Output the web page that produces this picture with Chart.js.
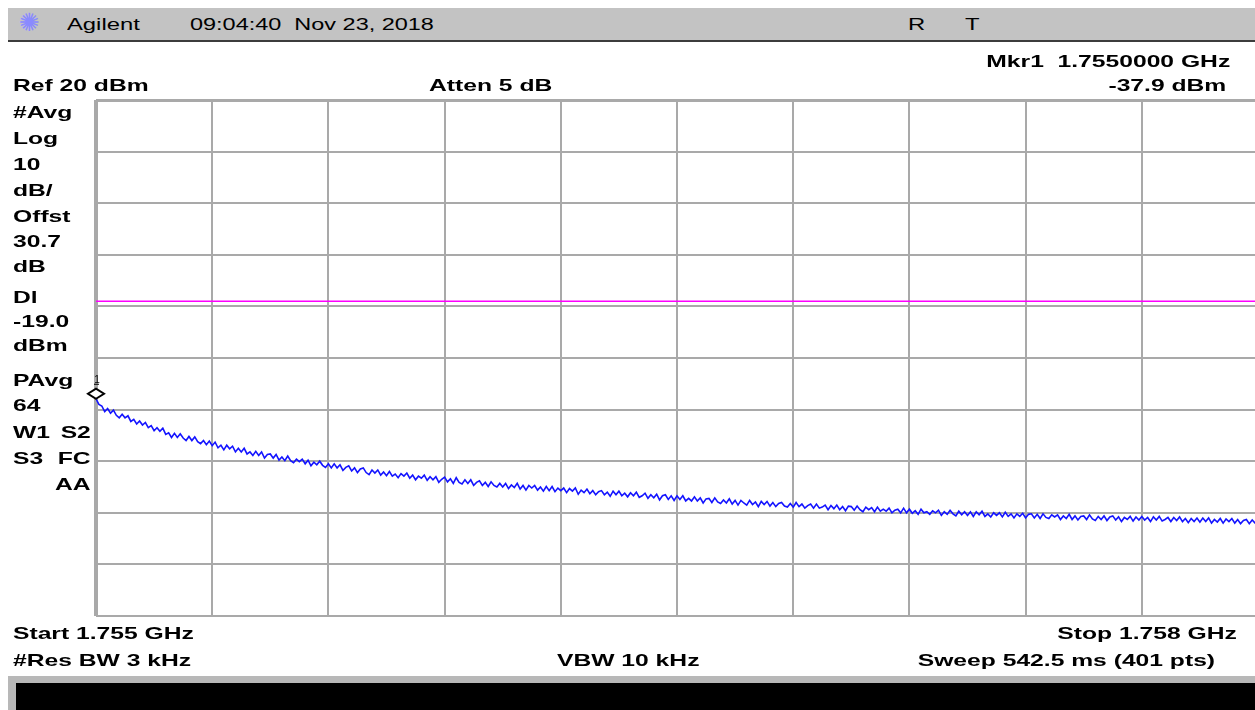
<!DOCTYPE html>
<html>
<head>
<meta charset="utf-8">
<title>Spectrum trace</title>
<script src="https://cdn.jsdelivr.net/npm/chart.js@4.4.1/dist/chart.umd.min.js"></script>
<style>
  html, body { margin: 0; padding: 0; background: #fff; }
  body { width: 1255px; height: 710px; overflow: hidden; position: relative;
         font-family: "Liberation Sans", Arial, sans-serif; }
  #wrap { position: absolute; left: 0; top: 0; width: 1262px; height: 710px; }
  #bar { position: absolute; left: 8px; top: 8px; width: 1247px; height: 32px;
         background: #c3c3c3; border-bottom: 2px solid #3c3c3c; }
  #foot { position: absolute; left: 8px; top: 676px; width: 1247px; height: 34px; background: #b8b8b8; }
  #footIn { position: absolute; left: 8px; top: 7px; right: 0; bottom: 0; background: #000; }
  .lbl { position: absolute; white-space: pre; font-size: 17px; line-height: 17px;
         font-weight: bold; color: #000; transform-origin: 0 0; }
  .plain { font-weight: normal; }
  .logo { position: absolute; left: 19px; top: 9px; font-family: "DejaVu Sans"; font-size: 25px;
          line-height: 28px; color: #8a8aff; }
</style>
</head>
<body>
<div id="wrap"><canvas id="c" width="1262" height="710"></canvas></div>
<div id="bar"></div>
<div id="foot"><div id="footIn"></div></div>
<div class="logo">✺</div>
<script>
// sweep settings
var startMHz = 1755.0;
var stopMHz = 1758.0;
var refLevel = 20;      // dBm, top of the graticule
var bottomLevel = -80;  // 10 dB/div, 10 divisions
var displayLine = [-19.0];
var markerIdx = [0];

// 401 sweep points, dBm
var traceDbm = [
  -37.9, -39.0, -39.3, -40.4, -39.8, -40.7, -40.1, -41.1, -41.6, -40.9, -41.6, -41.2, -42.3, -41.9, -42.8, -42.2, -43.0, -42.5, -43.5, -43.1,
  -44.1, -43.5, -44.2, -43.6, -44.8, -44.5, -45.4, -44.6, -45.4, -44.7, -45.5, -46.0, -45.2, -46.0, -45.3, -46.2, -46.6, -46.0, -46.8, -46.1,
  -47.0, -46.3, -47.4, -46.9, -47.8, -46.9, -47.6, -47.1, -48.2, -47.5, -48.2, -47.5, -48.6, -48.2, -48.9, -48.1, -48.9, -48.2, -49.4, -48.7,
  -48.6, -49.4, -48.7, -49.8, -49.2, -49.9, -49.0, -49.9, -50.3, -49.6, -50.1, -49.6, -50.5, -49.8, -50.9, -50.2, -50.7, -50.0, -50.8, -51.2,
  -50.5, -51.3, -50.5, -51.3, -50.7, -51.8, -51.2, -50.9, -51.9, -51.3, -52.2, -51.5, -51.3, -52.2, -52.6, -51.7, -52.3, -51.7, -52.7, -52.1,
  -52.8, -52.0, -52.9, -52.5, -53.2, -52.4, -52.9, -52.3, -53.3, -52.7, -53.6, -52.9, -53.3, -52.7, -53.7, -53.0, -53.6, -53.0, -54.1, -53.5,
  -53.1, -54.0, -53.4, -54.3, -53.2, -54.1, -54.4, -53.6, -54.3, -53.6, -54.7, -54.1, -53.8, -54.7, -54.1, -54.9, -54.0, -54.7, -55.0, -54.3,
  -55.0, -54.3, -55.3, -54.6, -55.1, -54.3, -55.4, -54.7, -55.6, -54.7, -55.2, -54.7, -55.6, -55.0, -55.8, -54.9, -55.7, -54.9, -55.9, -55.2,
  -55.7, -55.2, -56.1, -55.3, -55.8, -55.2, -56.4, -55.6, -56.1, -55.4, -56.3, -55.7, -56.5, -55.9, -55.7, -56.5, -56.0, -56.8, -55.8, -56.5,
  -55.8, -56.7, -56.2, -56.9, -56.1, -56.7, -56.0, -57.0, -56.7, -56.2, -57.2, -56.5, -57.1, -56.4, -57.5, -56.7, -56.5, -57.4, -56.7, -57.6,
  -56.7, -57.4, -56.7, -57.7, -57.2, -57.7, -56.9, -57.7, -57.1, -58.1, -57.3, -57.2, -58.0, -57.1, -57.9, -58.2, -57.5, -58.1, -57.3, -58.3,
  -57.6, -58.5, -57.6, -58.1, -58.5, -57.6, -58.4, -57.9, -58.8, -57.8, -58.4, -57.8, -58.7, -58.0, -58.8, -58.2, -58.0, -58.7, -58.9, -58.2,
  -58.9, -58.0, -58.8, -58.3, -59.1, -58.6, -58.3, -59.1, -58.3, -59.1, -58.9, -58.5, -59.4, -58.6, -59.2, -58.5, -59.4, -58.8, -59.6, -58.7,
  -58.8, -59.5, -58.7, -59.4, -59.8, -58.9, -59.4, -59.0, -59.8, -58.9, -59.7, -59.3, -59.7, -59.1, -60.0, -59.5, -59.3, -60.0, -59.1, -60.0,
  -59.3, -60.1, -59.6, -60.3, -59.3, -60.0, -59.8, -60.3, -59.6, -60.0, -59.5, -60.5, -59.8, -60.3, -59.5, -60.2, -60.6, -59.7, -60.4, -59.8,
  -60.5, -59.8, -60.7, -59.8, -60.4, -59.7, -60.7, -60.2, -60.8, -60.0, -60.5, -60.0, -60.8, -59.9, -60.7, -60.2, -61.0, -60.2, -60.7, -60.1,
  -61.0, -60.3, -60.2, -61.0, -60.3, -61.1, -60.2, -60.9, -61.1, -60.4, -60.8, -60.4, -61.3, -60.6, -61.1, -60.3, -61.3, -60.6, -61.4, -60.7,
  -60.6, -61.3, -60.4, -61.2, -61.5, -60.7, -61.3, -60.6, -61.5, -60.8, -60.6, -61.4, -60.8, -61.7, -60.9, -61.3, -60.7, -61.6, -60.8, -61.4,
  -60.7, -61.4, -60.9, -61.7, -60.8, -61.4, -60.7, -61.6, -61.3, -60.9, -61.7, -60.9, -61.5, -60.8, -61.7, -61.1, -61.9, -61.1, -61.7, -61.0,
  -61.8, -61.0, -61.7, -61.0, -62.0, -61.3, -61.8, -61.1, -62.0, -61.2, -61.7, -61.1, -62.0, -61.3, -62.1, -61.5, -61.3, -62.1, -61.4, -62.0, -61.5
];

var gridColor = '#a9a9a9';
var stretch = 1.45;   // screen text is drawn wide

// text around the graticule
function label(txt, x, base, align, cls, sx) {
  var d = document.createElement('div');
  d.className = 'lbl' + (cls ? ' ' + cls : '');
  d.textContent = txt;
  d.style.top = (base - 14) + 'px';
  if (align === 'right') {
    d.style.right = (1255 - x) + 'px';
    d.style.transformOrigin = '100% 0';
  } else {
    d.style.left = x + 'px';
  }
  d.style.transform = 'scaleX(' + (sx || stretch) + ')';
  document.body.appendChild(d);
}

label('Agilent', 67, 30, 'left', 'plain', 1.4);
label('09:04:40  Nov 23, 2018', 190, 30, 'left', 'plain', 1.38);
label('R', 908, 30, 'left', 'plain', 1.4);
label('T', 965, 30, 'left', 'plain', 1.4);

label('Mkr1  1.7550000 GHz', 1230, 67, 'right');
label('Ref 20 dBm', 13, 91, 'left');
label('Atten 5 dB', 429, 91, 'left');
label('-37.9 dBm', 1226, 91, 'right');

label('#Avg', 13, 118, 'left');
label('Log', 13, 144, 'left');
label('10', 13, 170, 'left');
label('dB/', 13, 196, 'left');
label('Offst', 13, 222, 'left');
label('30.7', 13, 247, 'left');
label('dB', 13, 272, 'left');
label('Dl', 13, 303, 'left');
label('-19.0', 13, 327, 'left');
label('dBm', 13, 351, 'left');
label('PAvg', 13, 386, 'left');
label('64', 13, 411, 'left');
label('W1', 13, 438, 'left');
label('S2', 91, 438, 'right');
label('S3', 13, 464, 'left');
label('FC', 91, 464, 'right');
label('AA', 91, 490, 'right');

label('Start 1.755 GHz', 13, 639, 'left');
label('Stop 1.758 GHz', 1237, 639, 'right');
label('#Res BW 3 kHz', 13, 666, 'left');
label('VBW 10 kHz', 557, 666, 'left');
label('Sweep 542.5 ms (401 pts)', 1215, 666, 'right');

// sweep points -> frequency
var stepMHz = (stopMHz - startMHz) / (traceDbm.length - 1);
var tracePts = traceDbm.map(function(v, i) {
  return { x: startMHz + i * stepMHz, y: v };
});
var dlPts = [{ x: startMHz, y: displayLine[0] }, { x: stopMHz, y: displayLine[0] }];

// marker diamond sits with its lower tip on the trace
var markerPlugin = {
  id: 'mkr',
  afterDatasetsDraw: function(chart) {
    var meta = chart.getDatasetMeta(0);
    var c = chart.ctx;
    markerIdx.forEach(function(idx, n) {
      var p = meta.data[idx];
      var x = p.x, y = p.y;
      c.save();
      c.beginPath();
      c.moveTo(x, y);
      c.lineTo(x + 8, y - 5);
      c.lineTo(x, y - 10);
      c.lineTo(x - 8, y - 5);
      c.closePath();
      c.fillStyle = '#fff';
      c.fill();
      c.lineWidth = 2;
      c.strokeStyle = '#000';
      c.stroke();
      c.fillStyle = '#000';
      c.font = '10px "Liberation Sans", Arial';
      c.textAlign = 'center';
      c.fillText(String(n + 1), x + 1, y - 16);
      c.fillRect(x - 2, y - 15, 5, 1);
      c.restore();
    });
  }
};

var ctx = document.getElementById('c').getContext('2d');
var chart = new Chart(ctx, {
  type: 'line',
  data: {
    datasets: [
      {
        label: 'Trace 1',
        data: tracePts,
        borderColor: '#1414ff',
        borderWidth: 1.6,
        pointRadius: 0,
        tension: 0
      },
      {
        label: 'Display line',
        data: dlPts,
        borderColor: '#ff00ff',
        borderWidth: 1.6,
        pointRadius: 0
      }
    ]
  },
  options: {
    responsive: false,
    animation: false,
    events: [],
    layout: { padding: { left: 96, top: 100, right: 4, bottom: 94 } },
    plugins: { legend: { display: false }, tooltip: { enabled: false } },
    scales: {
      x: {
        type: 'linear',
        min: startMHz,
        max: stopMHz,
        afterBuildTicks: function(scale) {
          var t = [];
          for (var k = 0; k <= 10; k++) t.push({ value: startMHz + k * (stopMHz - startMHz) / 10 });
          scale.ticks = t;
        },
        ticks: { display: false },
        border: { display: false },
        grid: {
          drawTicks: false,
          color: gridColor,
          lineWidth: function(c) { return c.index === 0 ? 4 : 2; }
        }
      },
      y: {
        min: bottomLevel,
        max: refLevel,
        ticks: { display: false, stepSize: 10 },
        border: { display: false },
        grid: {
          drawTicks: false,
          color: gridColor,
          lineWidth: function(c) { return c.index === 10 ? 3 : 2; }
        }
      }
    }
  },
  plugins: [markerPlugin]
});
</script>
</body>
</html>
